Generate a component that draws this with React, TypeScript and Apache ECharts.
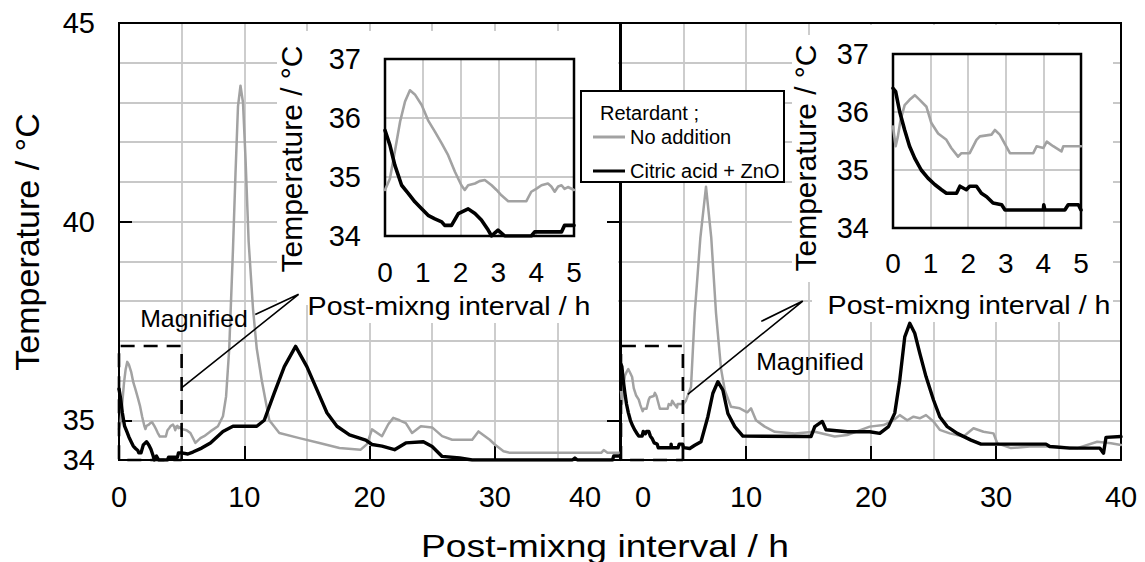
import React, { useEffect, useRef } from 'react';
import * as echarts from 'echarts';

const FONT = '"Liberation Sans", Arial, Helvetica, sans-serif';

// ---- Data (hours, °C) ----
const leftInsetNoAddition: number[][] = [
  [0, 34.78], [0.13, 34.97], [0.26, 35.43], [0.4, 35.94], [0.53, 36.28], [0.66, 36.47], [0.79, 36.4],
  [0.97, 36.22], [1.14, 35.96], [1.32, 35.77], [1.5, 35.57], [1.67, 35.37], [1.85, 35.09], [2.02, 34.86],
  [2.11, 34.78], [2.2, 34.86], [2.38, 34.89], [2.5, 34.93], [2.64, 34.95], [2.82, 34.86], [2.95, 34.78],
  [3.08, 34.69], [3.26, 34.59], [3.74, 34.59], [3.87, 34.75], [4.0, 34.8], [4.14, 34.86], [4.31, 34.89],
  [4.4, 34.84], [4.49, 34.75], [4.58, 34.84], [4.67, 34.86], [4.75, 34.8], [4.84, 34.83], [5, 34.78],
];
const leftInsetCitric: number[][] = [
  [0, 35.79], [0.13, 35.54], [0.26, 35.2], [0.44, 34.86], [0.62, 34.72], [0.79, 34.58], [0.97, 34.46],
  [1.14, 34.35], [1.32, 34.29], [1.5, 34.24], [1.58, 34.18], [1.76, 34.18], [1.94, 34.38], [2.2, 34.46],
  [2.38, 34.38], [2.55, 34.27], [2.73, 34.1], [2.82, 34.0], [2.9, 34.05], [2.99, 34.1], [3.08, 34.05],
  [3.17, 34.0], [3.87, 34.0], [3.96, 34.07], [4.67, 34.07], [4.75, 34.18], [5, 34.18],
];
const leftLateNoAddition: number[][] = [
  [5.4, 34.75], [5.7, 34.68], [6.1, 34.43], [6.5, 34.55], [6.8, 34.6], [7.3, 34.72], [7.9, 34.85],
  [8.3, 35.1], [8.55, 35.6], [8.8, 36.8], [9.1, 39.3], [9.3, 41.2], [9.5, 42.9], [9.7, 43.42], [9.9, 43.0],
  [10.1, 41.6], [10.35, 39.5], [10.7, 37.8], [11.0, 36.8], [11.4, 36.0], [11.7, 35.5], [12.0, 35.0],
  [12.8, 34.68], [14.4, 34.55], [16.0, 34.43], [17.6, 34.3], [19.3, 34.26], [19.8, 34.4], [20.2, 34.77],
  [21, 34.6], [21.5, 34.9], [21.9, 35.06], [22.4, 35.0], [22.9, 34.93], [23.4, 34.68], [24.1, 34.85],
  [25, 34.82], [25.8, 34.6], [26.6, 34.51], [28.2, 34.51], [28.7, 34.72], [29.6, 34.51], [30, 34.39],
  [30.7, 34.22], [31.2, 34.18], [38.5, 34.18], [38.7, 34.25], [39.0, 34.18], [40, 34.18],
];
const leftLateCitric: number[][] = [
  [5.5, 34.15], [5.9, 34.2], [6.6, 34.3], [7.3, 34.43], [8.3, 34.72], [9.1, 34.85], [11.0, 34.85],
  [11.6, 35.0], [12.4, 35.69], [13.2, 36.35], [14.1, 36.86], [15.0, 36.35], [15.8, 35.77], [16.6, 35.19],
  [17.4, 34.85], [18.4, 34.63], [19.7, 34.5], [20.2, 34.39], [21, 34.35], [22, 34.26], [22.9, 34.43],
  [24.3, 34.46], [25, 34.34], [25.8, 34.09], [27.2, 34.05], [28.2, 34.0], [36.2, 34.0], [36.4, 34.05],
  [36.6, 34.0], [39.4, 34.0], [39.5, 34.1], [40, 34.1],
];
const rightInsetNoAddition: number[][] = [
  [0, 35.75], [0.07, 35.41], [0.13, 35.58], [0.2, 35.86], [0.31, 36.12], [0.44, 36.21], [0.58, 36.29],
  [0.71, 36.21], [0.89, 36.09], [1.02, 35.81], [1.2, 35.63], [1.42, 35.52], [1.55, 35.38], [1.73, 35.23],
  [1.82, 35.29], [2.04, 35.29], [2.22, 35.52], [2.31, 35.58], [2.62, 35.61], [2.71, 35.69], [2.84, 35.61],
  [3.11, 35.29], [3.73, 35.29], [3.82, 35.41], [4.0, 35.38], [4.09, 35.49], [4.26, 35.41], [4.48, 35.32],
  [4.53, 35.41], [5, 35.41],
];
const rightInsetCitric: number[][] = [
  [0, 36.41], [0.07, 36.35], [0.18, 36.0], [0.31, 35.69], [0.44, 35.41], [0.58, 35.2], [0.75, 35.0],
  [0.93, 34.86], [1.11, 34.75], [1.29, 34.66], [1.42, 34.6], [1.69, 34.6], [1.78, 34.72], [1.95, 34.66],
  [2.04, 34.72], [2.22, 34.72], [2.35, 34.6], [2.49, 34.54], [2.66, 34.43], [2.89, 34.4], [2.98, 34.31],
  [4.0, 34.31], [4.01, 34.4], [4.04, 34.31], [4.57, 34.31], [4.66, 34.4], [4.93, 34.4], [5, 34.31],
];
const rightLateNoAddition: number[][] = [
  [5.2, 35.5], [5.6, 35.84], [5.9, 37.7], [6.35, 39.6], [6.8, 40.88], [7.22, 39.6], [7.6, 37.7],
  [8.0, 36.3], [8.3, 35.76], [8.8, 35.34], [9.5, 35.3], [10.1, 35.2], [10.4, 35.3], [10.8, 35.0],
  [11.5, 34.84], [12.3, 34.71], [13.9, 34.67], [15.5, 34.71], [17.1, 34.59], [18.1, 34.63], [19.9, 34.84],
  [21.0, 34.88], [21.8, 35.0], [22.3, 35.13], [22.9, 35.0], [23.4, 35.09], [23.9, 35.05], [24.4, 35.13],
  [25.0, 34.97], [25.5, 34.76], [26.3, 34.67], [27.4, 34.59], [28.2, 34.8], [29.0, 34.71], [29.8, 34.67],
  [30.1, 34.42], [31.2, 34.3], [32.7, 34.34], [34.8, 34.34], [36.5, 34.3], [38.1, 34.46], [39.2, 34.42],
  [40, 34.38],
];
const rightLateCitric: number[][] = [
  [5.5, 34.29], [5.9, 34.37], [6.4, 34.46], [6.95, 35.09], [7.35, 35.68], [7.75, 35.97], [8.15, 35.76],
  [8.55, 35.17], [9.1, 34.84], [9.75, 34.6], [15.2, 34.59], [15.5, 34.84], [16.1, 34.97], [16.4, 34.76],
  [18.1, 34.71], [19.9, 34.71], [20.7, 34.67], [21.4, 34.84], [21.9, 35.18], [22.3, 36.01], [22.7, 37.1],
  [23.1, 37.44], [23.5, 37.19], [23.9, 36.69], [24.4, 36.1], [25.0, 35.51], [25.5, 35.09], [26.1, 34.84],
  [26.9, 34.67], [28.0, 34.5], [28.8, 34.4], [34.0, 34.4], [34.3, 34.34], [35.9, 34.3], [38.3, 34.3],
  [38.6, 34.17], [38.8, 34.57], [40, 34.59],
];

// annotation outlines (data coordinates)
const leftDashedBox: number[][] = [[5, 34], [5, 36.87], [0, 36.87], [0, 34], [5, 34]];
const leftLeader: number[][] = [[5.02, 35.82], [14.34, 38.17], [10.88, 37.66]];
const rightDashedBox: number[][] = [[4.95, 34], [4.95, 36.87], [0, 36.87], [0, 34], [4.95, 34]];
const rightLeader: number[][] = [[5.34, 35.65], [14.54, 38.0], [11.22, 37.49]];

// tick / label values
const mainXTicks = [10, 20, 30];
const mainXLabels = [0, 10, 20, 30, 40];
const mainYLabels = [34, 35, 40, 45];
const mainYTicks = [35, 40];

const GRAY = '#a2a2a2';
const BLACK = '#000000';
const gridLine = { color: '#c8c8c8', width: 1.8 };

function lineSeries(name: string, data: number[][], xi: number, yi: number, color: string, width: number, z: number) {
  return {
    type: 'line', name, data, xAxisIndex: xi, yAxisIndex: yi, symbol: 'none', showSymbol: false,
    color, itemStyle: { color }, lineStyle: { color, width, join: 'round', cap: 'round' }, z, silent: true,
  };
}
function annot(data: number[][], xi: number, yi: number, dashed: boolean) {
  return {
    type: 'line', name: dashed ? 'box' : 'leader', data, xAxisIndex: xi, yAxisIndex: yi, symbol: 'none',
    clip: false, silent: true, z: 3,
    lineStyle: { color: '#000', width: dashed ? 2.6 : 1.6, type: dashed ? [14, 9] : 'solid' },
  };
}
function gridXAxis(gi: number, max: number, interval: number, z = 0) {
  return {
    gridIndex: gi, type: 'value', min: 0, max, interval, position: 'bottom', z,
    axisLine: { show: false }, axisTick: { show: false }, axisLabel: { show: false },
    splitLine: { show: true, lineStyle: gridLine },
  };
}
function gridYAxis(gi: number, min: number, max: number, z = 0) {
  return {
    gridIndex: gi, type: 'value', min, max, interval: 1, position: 'left', z,
    axisLine: { show: false }, axisTick: { show: false }, axisLabel: { show: false },
    splitLine: { show: true, lineStyle: gridLine },
  };
}
function text(t: string, x: number, y: number, size: number, opts: any = {}) {
  return {
    type: 'text', x, y, z: 9, rotation: opts.rotation || 0, scaleX: opts.scaleX || 1,
    style: {
      text: t, fill: '#000', font: `${size}px ${FONT}`,
      align: opts.align || 'center', textAlign: opts.align || 'center',
      verticalAlign: 'middle', textVerticalAlign: 'middle',
    },
  };
}
function cover(x: number, y: number, w: number, h: number) {
  return { type: 'rect', z: 1, shape: { x, y, width: w, height: h }, style: { fill: '#ffffff', stroke: null } };
}

const option: any = {
  animation: false,
  backgroundColor: '#ffffff',
  grid: [
    { left: 119, top: 23, width: 501, height: 437, show: true, borderColor: '#000', borderWidth: 2, backgroundColor: 'transparent', z: 2 },
    { left: 621, top: 23, width: 500, height: 437, show: true, borderColor: '#000', borderWidth: 2, backgroundColor: 'transparent', z: 2 },
    { left: 385, top: 59, width: 189, height: 177, show: true, borderColor: '#000', borderWidth: 2.5, backgroundColor: 'transparent', z: 7 },
    { left: 893, top: 54, width: 188, height: 174, show: true, borderColor: '#000', borderWidth: 2.5, backgroundColor: 'transparent', z: 7 },
  ],
  xAxis: [
    gridXAxis(0, 40, 5),
    {
      gridIndex: 0, type: 'value', min: 0, max: 40, position: 'bottom', z: 2,
      axisLine: { show: false },
      axisTick: { show: true, customValues: mainXTicks, inside: true, length: 14, lineStyle: { color: '#000', width: 2 } },
      axisLabel: {
        show: true, customValues: mainXLabels, fontSize: 29, color: '#000', fontFamily: FONT, margin: 22,
        formatter: (v: number) => (v === 40 ? '{s|40}' : String(v)),
        rich: { s: { fontSize: 29, fontFamily: FONT, color: '#000', padding: [0, 70, 0, 0] } },
      },
      splitLine: { show: false },
    },
    gridXAxis(1, 40, 5),
    {
      gridIndex: 1, type: 'value', min: 0, max: 40, position: 'bottom', z: 2,
      axisLine: { show: false },
      axisTick: { show: true, customValues: mainXTicks, inside: true, length: 14, lineStyle: { color: '#000', width: 2 } },
      axisLabel: {
        show: true, customValues: mainXLabels, fontSize: 29, color: '#000', fontFamily: FONT, margin: 22,
        formatter: (v: number) => (v === 0 ? '{s|0}' : String(v)),
        rich: { s: { fontSize: 29, fontFamily: FONT, color: '#000', padding: [0, 0, 0, 44] } },
      },
      splitLine: { show: false },
    },
    {
      ...gridXAxis(2, 5, 1, 6),
      axisLabel: { show: true, fontSize: 28, color: '#000', fontFamily: FONT, margin: 22 },
    },
    {
      ...gridXAxis(3, 5, 1, 6),
      axisLabel: { show: true, fontSize: 28, color: '#000', fontFamily: FONT, margin: 21 },
    },
  ],
  yAxis: [
    gridYAxis(0, 34, 45),
    {
      gridIndex: 0, type: 'value', min: 34, max: 45, position: 'left', z: 2,
      axisLine: { show: false },
      axisTick: { show: true, customValues: mainYTicks, inside: true, length: 13, lineStyle: { color: '#000', width: 2 } },
      axisLabel: { show: true, customValues: mainYLabels, fontSize: 29, color: '#000', fontFamily: FONT, margin: 24 },
      splitLine: { show: false },
    },
    gridYAxis(1, 34, 45),
    {
      gridIndex: 1, type: 'value', min: 34, max: 45, position: 'right', z: 2,
      axisLine: { show: false },
      axisTick: { show: true, customValues: mainYTicks, inside: true, length: 14, lineStyle: { color: '#000', width: 2 } },
      axisLabel: { show: false }, splitLine: { show: false },
    },
    {
      gridIndex: 1, type: 'value', min: 34, max: 45, position: 'left', z: 2,
      axisLine: { show: false },
      axisTick: { show: true, customValues: mainYTicks, inside: false, length: 10, lineStyle: { color: '#000', width: 2 } },
      axisLabel: { show: false }, splitLine: { show: false },
    },
    {
      ...gridYAxis(2, 34, 37, 6),
      axisLabel: { show: true, fontSize: 29, color: '#000', fontFamily: FONT, margin: 24 },
    },
    {
      ...gridYAxis(3, 34, 37, 6),
      axisLabel: { show: true, fontSize: 29, color: '#000', fontFamily: FONT, margin: 24 },
    },
  ],
  legend: {
    show: true, orient: 'vertical', left: 593, top: 127, padding: 0, itemGap: 14,
    itemWidth: 32, itemHeight: 3, selectedMode: false, z: 5,
    textStyle: { fontSize: 20, color: '#000', fontFamily: FONT },
    itemStyle: { borderWidth: 0 },
    data: [
      { name: 'No addition', icon: 'rect' },
      { name: 'Citric acid + ZnO', icon: 'rect' },
    ],
  },
  graphic: [
    cover(277, 31, 341, 274),
    cover(309, 305, 309, 18),
    cover(792, 35, 23, 247),
    cover(815, 25, 298, 257),
    cover(812, 282, 301, 40),
    { type: 'rect', z: 4, shape: { x: 581, y: 91, width: 203, height: 91 }, style: { fill: '#ffffff', stroke: '#000', lineWidth: 2 } },
    text('Retardant ;', 600, 113, 20, { align: 'left' }),
    text('Temperature / °C', 27, 242, 34, { rotation: Math.PI / 2 }),
    text('Post-mixng interval / h', 605, 546, 31, { scaleX: 1.2 }),
    text('Temperature / °C', 291, 159, 30, { rotation: Math.PI / 2 }),
    text('Temperature / °C', 805, 158, 30, { rotation: Math.PI / 2 }),
    text('Post-mixng interval / h', 449, 306, 26, { scaleX: 1.1 }),
    text('Post-mixng interval / h', 969, 305, 26, { scaleX: 1.1 }),
    text('Magnified', 194, 319, 23, { scaleX: 1.08 }),
    text('Magnified', 810, 362, 23, { scaleX: 1.08 }),
  ],
  series: [
    lineSeries('No addition', [...leftInsetNoAddition, ...leftLateNoAddition], 0, 0, GRAY, 2.5, 3),
    lineSeries('Citric acid + ZnO', [...leftInsetCitric, ...leftLateCitric], 0, 0, BLACK, 3.4, 3),
    lineSeries('No addition', [...rightInsetNoAddition, ...rightLateNoAddition], 2, 2, GRAY, 2.5, 3),
    lineSeries('Citric acid + ZnO', [...rightInsetCitric, ...rightLateCitric], 2, 2, BLACK, 3.4, 3),
    lineSeries('No addition', leftInsetNoAddition, 4, 5, GRAY, 2.6, 8),
    lineSeries('Citric acid + ZnO', leftInsetCitric, 4, 5, BLACK, 3.6, 8),
    lineSeries('No addition', rightInsetNoAddition, 5, 6, GRAY, 2.6, 8),
    lineSeries('Citric acid + ZnO', rightInsetCitric, 5, 6, BLACK, 3.6, 8),
    annot(leftDashedBox, 0, 0, true),
    annot(leftLeader, 0, 0, false),
    annot(rightDashedBox, 2, 2, true),
    annot(rightLeader, 2, 2, false),
  ],
};

export default function App() {
  const ref = useRef<HTMLDivElement>(null);
  useEffect(() => {
    const chart = echarts.init(ref.current as HTMLDivElement, null, { renderer: 'svg' });
    chart.setOption(option);
    return () => chart.dispose();
  }, []);
  return (
    <div
      ref={ref}
      style={{ position: 'absolute', left: 0, top: 0, width: 1145, height: 562, background: '#ffffff' }}
    />
  );
}
